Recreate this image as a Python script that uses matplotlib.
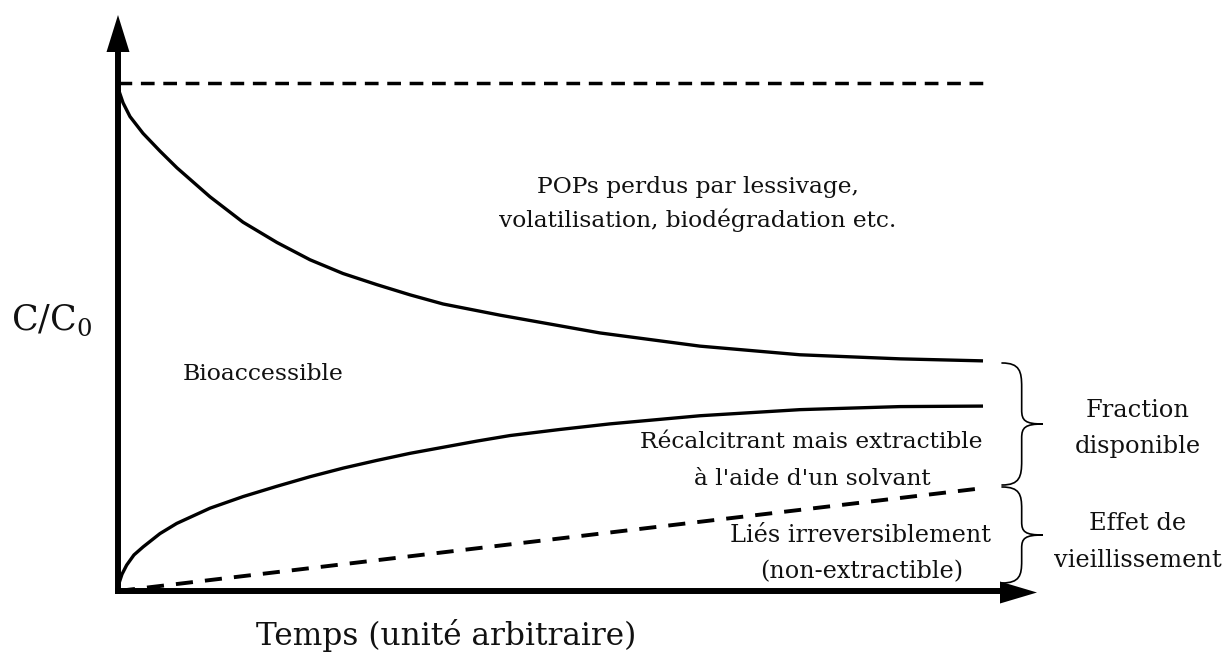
import matplotlib
matplotlib.use("Agg")
import matplotlib.pyplot as plt
from matplotlib.patches import PathPatch, Polygon
from matplotlib.path import Path
from matplotlib.transforms import Affine2D

# ---------------- data (schematic, arbitrary units) ----------------
time_lost = [0.0, 0.058, 0.138, 0.288, 0.484, 0.680, 1.061, 1.442, 1.834, 2.215,
             2.595, 2.987, 3.368, 3.749, 4.406, 5.098, 5.559, 6.713, 7.866,
             9.019, 9.977]
bioaccessible_top = [0.990, 0.961, 0.934, 0.901, 0.866, 0.833, 0.776, 0.726,
                     0.686, 0.652, 0.625, 0.603, 0.583, 0.565, 0.543, 0.522,
                     0.508, 0.482, 0.465, 0.457, 0.453]

time_extract = [0.0, 0.017, 0.046, 0.100, 0.184, 0.291, 0.484, 0.677, 1.061,
                1.445, 1.830, 2.215, 2.599, 2.984, 3.368, 3.752, 4.137, 4.521,
                5.098, 5.675, 6.713, 7.866, 9.019, 9.977]
extractible_top = [0.0, 0.018, 0.033, 0.051, 0.071, 0.087, 0.113, 0.133, 0.163,
                   0.186, 0.206, 0.225, 0.242, 0.257, 0.271, 0.283, 0.295, 0.306,
                   0.318, 0.329, 0.345, 0.357, 0.363, 0.364]

time_bound = [0.0, 10.0]
bound_top = [0.0, 0.203]

time_initial = [0.0, 10.06]
initial_level = [1.0, 1.0]

# ---------------- figure ----------------
W, H = 1227, 654
fig = plt.figure(figsize=(W / 100, H / 100), dpi=100)
ax = fig.add_axes([0, 0, 1, 1])
X0, Y0, SX, SY = 118, 591, 86.7, 508
ax.set_xlim(-X0 / SX, (W - X0) / SX)
ax.set_ylim(-(H - Y0) / SY, Y0 / SY)
ax.axis("off")

# pixel transform (x right, y down from top-left)
pix = Affine2D().scale(1, -1).translate(0, H) + fig.dpi_scale_trans.inverted() + fig.dpi_scale_trans

FONT = "DejaVu Serif"

# curves
ax.plot(time_lost, bioaccessible_top, color="black", lw=2.4,
        solid_capstyle="butt", solid_joinstyle="round")
ax.plot(time_extract, extractible_top, color="black", lw=2.4,
        solid_capstyle="butt", solid_joinstyle="round")
ax.plot(time_bound, bound_top, color="black", lw=2.8, linestyle=(0, (4.4, 3.1)))
ax.plot(time_initial, initial_level, color="black", lw=2.5, linestyle=(0, (3.95, 2.5)))

# axes lines with arrow heads (pixel coordinates)
ax.plot([118, 118], [594, 50], transform=pix, color="black", lw=4.3,
        solid_capstyle="butt")
ax.plot([115, 1002], [591, 591], transform=pix, color="black", lw=4.3,
        solid_capstyle="butt")
ax.add_patch(Polygon([(118, 15), (106.5, 52), (129.5, 52)], closed=True,
                     transform=pix, facecolor="black", edgecolor="none"))
ax.add_patch(Polygon([(1037, 592.5), (1000, 581.5), (1000, 603.5)], closed=True,
                     transform=pix, facecolor="black", edgecolor="none"))


def brace(x0, ytop, ybot, w, qe, qm):
    ym = (ytop + ybot) / 2
    xm = x0 + w * 0.48
    verts = [(x0, ytop),
             (xm - 2, ytop), (xm, ytop + qe * 0.35), (xm, ytop + qe),
             (xm, ym - qm),
             (xm, ym - qm * 0.25), (xm + w * 0.08, ym), (x0 + w, ym),
             (xm + w * 0.08, ym), (xm, ym + qm * 0.25), (xm, ym + qm),
             (xm, ybot - qe),
             (xm, ybot - qe * 0.35), (xm - 2, ybot), (x0, ybot)]
    codes = [Path.MOVETO,
             Path.CURVE4, Path.CURVE4, Path.CURVE4,
             Path.LINETO,
             Path.CURVE4, Path.CURVE4, Path.CURVE4,
             Path.CURVE4, Path.CURVE4, Path.CURVE4,
             Path.LINETO,
             Path.CURVE4, Path.CURVE4, Path.CURVE4]
    ax.add_patch(PathPatch(Path(verts, codes), transform=pix, fill=False,
                           lw=1.2, edgecolor="black", capstyle="round"))


brace(1002, 363, 485, 41, 24, 14)
brace(1002, 487, 583, 41, 22, 13)


def txt(x, y, s, size, ha="center"):
    ax.text(x, y, s, transform=pix, fontsize=size, family=FONT, ha=ha,
            va="baseline", color="#111111", multialignment="center", linespacing=1.0)


txt(698, 193, "POPs perdus par lessivage,", 16.8)
txt(698, 227, "volatilisation, biodégradation etc.", 16.8)
txt(183, 380, "Bioaccessible", 16.9, ha="left")
txt(811, 448, "Récalcitrant mais extractible", 16.8)
txt(812, 485, "à l'aide d'un solvant", 16.8)
txt(860, 542, "Liés irreversiblement", 17.2)
txt(862, 578, "(non-extractible)", 17.2)
txt(1138, 417, "Fraction", 17.4)
txt(1138, 453, "disponible", 17.4)
txt(1138, 530, "Effet de", 17.4)
txt(1138, 567, "vieillissement", 17.4)
txt(52, 330, r"C/C$_\mathregular{0}$", 25)
txt(446, 645, "Temps (unité arbitraire)", 22.5)

fig.savefig("out.png", dpi=100)
